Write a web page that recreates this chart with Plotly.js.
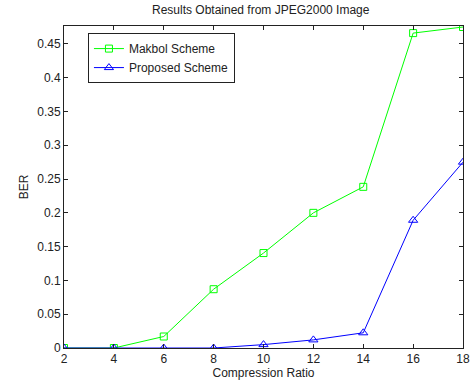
<!DOCTYPE html>
<html><head><meta charset="utf-8">
<script src="https://cdn.plot.ly/plotly-3.0.1.min.js"></script>
<style>html,body{margin:0;padding:0;background:#fff}</style>
</head><body><div id="chart" style="width:474px;height:381px"></div>
<script>
const compressionRatio = [2, 4, 6, 8, 10, 12, 14, 16, 18];
const makbolBER = [0, 0, 0.017, 0.087, 0.1405, 0.2, 0.2385, 0.466, 0.475];
const proposedBER = [0, 0, 0, 0, 0.005, 0.012, 0.0225, 0.189, 0.275];
const yTickVals = [0, 0.05, 0.1, 0.15, 0.2, 0.25, 0.3, 0.35, 0.4, 0.45];
const yTickText = ['0', '0.05', '0.1', '0.15', '0.2', '0.25', '0.3', '0.35', '0.4', '0.45'];
const xTickVals = [2, 4, 6, 8, 10, 12, 14, 16, 18];

const font = {family: 'Liberation Sans, Arial, sans-serif', size: 12, color: '#222'};
const traces = [
  {x: compressionRatio, y: makbolBER, name: 'Makbol Scheme', mode: 'lines+markers',
   line: {color: '#00ff00', width: 1}, marker: {symbol: 'square-open', size: 7, color: '#00ff00', line: {width: 1}}},
  {x: compressionRatio, y: proposedBER, name: 'Proposed Scheme', mode: 'lines+markers',
   line: {color: '#0000ff', width: 1}, marker: {symbol: 'triangle-up-open', size: 8, color: '#0000ff', line: {width: 1}}}
];
const layout = {
  width: 474, height: 381,
  margin: {l: 64, r: 11, t: 26, b: 33},
  paper_bgcolor: '#fff', plot_bgcolor: '#fff',
  font: font,
  title: {text: 'Results Obtained from JPEG2000 Image', font: {size: 12, color: '#222'}, x: 0.55, xanchor: 'center', y: 0.985, yanchor: 'top'},
  xaxis: {range: [2, 18], tickvals: xTickVals, ticks: 'inside', ticklen: 4, tickcolor: '#222',
          showline: true, linecolor: '#222', linewidth: 1, mirror: 'allticks', showgrid: false, zeroline: false,
          title: {text: 'Compression Ratio', font: {size: 12}, standoff: 2}},
  yaxis: {range: [0, 0.4765], tickvals: yTickVals, ticktext: yTickText, ticks: 'inside', ticklen: 4, tickcolor: '#222',
          showline: true, linecolor: '#222', linewidth: 1, mirror: 'allticks', showgrid: false, zeroline: false,
          title: {text: 'BER', font: {size: 12}, standoff: 6}},
  showlegend: true,
  legend: {x: 0.06, y: 0.978, xanchor: 'left', yanchor: 'top', bordercolor: '#222', borderwidth: 1,
           bgcolor: '#fff', font: {size: 12, color: '#222'}, tracegroupgap: 0, itemwidth: 30}
};
Plotly.newPlot('chart', traces, layout, {displayModeBar: false, staticPlot: true});
</script></body></html>
